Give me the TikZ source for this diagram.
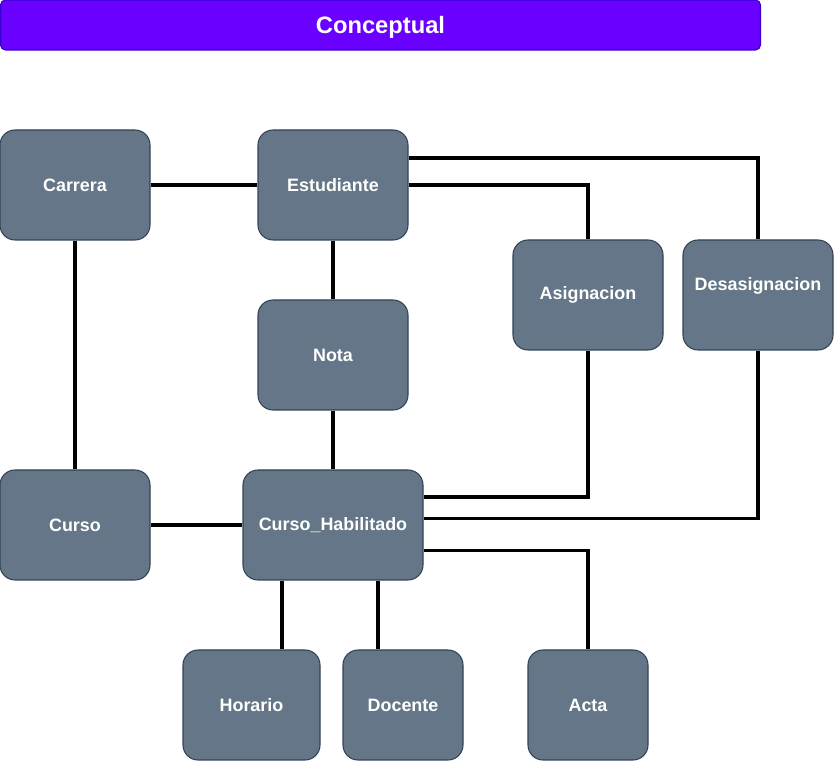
\documentclass[tikz,border=0pt]{standalone}
\usepackage{fontspec}
\setmainfont{Liberation Sans}
\usetikzlibrary{positioning}
\definecolor{entityGray}{HTML}{647687}
\definecolor{entityBorder}{HTML}{314354}
\definecolor{titlePurple}{HTML}{6A00FF}
\definecolor{titleBorder}{HTML}{3700CC}

\begin{document}
\begin{tikzpicture}[
  entity/.style={draw=entityBorder, line width=0.6pt, fill=entityGray, rounded corners=0.3cm,
                 align=center, text=white, minimum width=3cm, minimum height=2.2cm,
                 inner sep=0pt, font=\fontsize{10.2}{12.2}\selectfont\bfseries},
  heading/.style={draw=titleBorder, line width=0.6pt, fill=titlePurple, rounded corners=0.1cm,
                  text=white, minimum width=15.2cm, minimum height=1cm, inner sep=0pt,
                  text depth=0pt, font=\fontsize{13.5}{16}\selectfont\bfseries},
  link/.style={line width=2pt}
]
\useasboundingbox (0,0) rectangle (16.7,-15.22);
\node[heading] (title) at (7.61,-0.5) {Conceptual};
\node[entity] (carrera) at (1.5,-3.7) {Carrera};
\node[entity] (estudiante) at (6.66,-3.7) {Estudiante};
\node[entity] (asignacion) at (11.76,-5.9) {Asignacion};
\node[entity] (desasignacion) at (15.16,-5.9) {Desasignacion\\\mbox{}};
\node[entity] (nota) at (6.66,-7.1) {Nota};
\node[entity] (curso) at (1.5,-10.5) {Curso};
\node[entity, minimum width=3.6cm] (cursohab) at (6.66,-10.5) {Curso\_Habilitado};
\node[entity, minimum width=2.74cm] (horario) at (5.03,-14.1) {Horario};
\node[entity, minimum width=2.4cm] (docente) at (8.06,-14.1) {Docente};
\node[entity, minimum width=2.4cm] (acta) at (11.76,-14.1) {Acta};
\draw[link] (carrera) -- (estudiante);
\draw[link] (carrera) -- (curso);
\draw[link] (estudiante) -- (nota);
\draw[link] (nota) -- (cursohab);
\draw[link] (curso) -- (cursohab);
\draw[link] ([yshift=0.54cm]estudiante.east) -| (desasignacion.north);
\draw[link] (estudiante.east) -| (asignacion.north);
\draw[link] (asignacion.south) |- ([yshift=0.56cm]cursohab.east);
\draw[link] (desasignacion.south) |- ([yshift=0.13cm]cursohab.east);
\draw[link] ([yshift=-0.51cm]cursohab.east) -| (acta.north);
\draw[link] ([xshift=-1.02cm]cursohab.south) -- ([xshift=-1.02cm]cursohab.south |- horario.north);
\draw[link] ([xshift=0.9cm]cursohab.south) -- ([xshift=0.9cm]cursohab.south |- docente.north);
\end{tikzpicture}
\end{document}
